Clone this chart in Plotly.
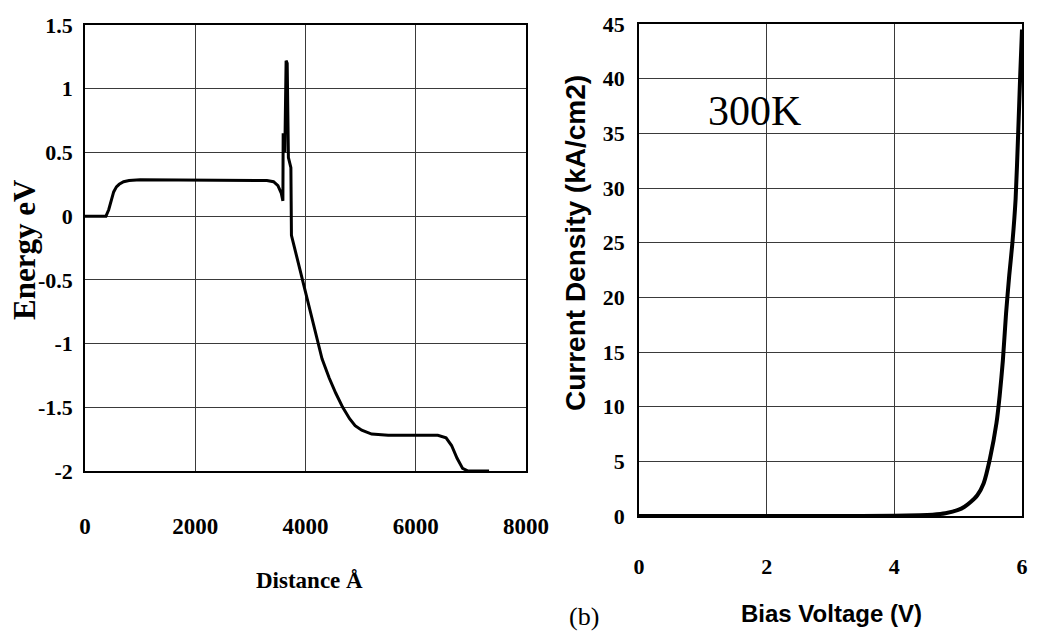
import plotly.graph_objects as go

# ---- Left panel: energy band profile ----
distance_A = [0, 300, 380, 430, 470, 520, 570, 620, 700, 800, 1000, 2000, 3000, 3300, 3420,
              3500, 3560, 3590, 3595, 3625, 3648, 3668, 3690, 3715, 3735, 3745, 3830, 3950,
              4000, 4100, 4200, 4300, 4430, 4550, 4675, 4800, 4900, 5020, 5200, 5500, 6000,
              6400, 6550, 6650, 6750, 6850, 6950, 7330]
energy_eV = [0, 0, 0.0, 0.05, 0.12, 0.19, 0.23, 0.25, 0.27, 0.28, 0.285, 0.285, 0.285, 0.28, 0.27,
             0.24, 0.18, 0.12, 0.65, 0.5, 1.22, 1.2, 0.46, 0.42, 0.38, -0.15, -0.3, -0.5,
             -0.59, -0.77, -0.96, -1.12, -1.27, -1.39, -1.5, -1.59, -1.645, -1.68, -1.71, -1.72,
             -1.72, -1.72, -1.74, -1.8, -1.9, -1.98, -2.0, -2.0]

# ---- Right panel: J-V characteristic ----
bias_V = [0, 1, 2, 3, 4, 4.4, 4.6, 4.8, 5.0, 5.1, 5.2, 5.3, 5.4, 5.5, 5.6, 5.65, 5.7, 5.75,
          5.8, 5.85, 5.9, 5.94, 5.97, 6.0]
current_kA_cm2 = [0, 0, 0, 0, 0.02, 0.06, 0.12, 0.25, 0.55, 0.85, 1.3, 1.9, 3.0, 5.3, 8.5, 11,
                  14.2, 18.5, 22, 25, 29, 35, 40, 44.5]

left_xticks = [0, 2000, 4000, 6000, 8000]
left_yticks = [-2, -1.5, -1, -0.5, 0, 0.5, 1, 1.5]
left_yticktext = ["-2", "-1.5", "-1", "-0.5", "0", "0.5", "1", "1.5"]
right_xticks = [0, 2, 4, 6]
right_yticks = [0, 5, 10, 15, 20, 25, 30, 35, 40, 45]

# page body has an 8px margin on every side; figure is sized/placed to fit inside it
OFF = 8
W, H = 1038 - 2 * OFF, 639 - 2 * OFF


def px(x):
    return (x - OFF) / W


def py(y):
    return (H - (y - OFF)) / H


serif = "Liberation Serif, Times New Roman, serif"
sans = "Liberation Sans, Arial, sans-serif"

fig = go.Figure()
fig.add_trace(go.Scatter(x=distance_A, y=energy_eV, mode="lines",
                         line=dict(color="black", width=3), cliponaxis=False,
                         xaxis="x", yaxis="y", showlegend=False))
fig.add_trace(go.Scatter(x=bias_V, y=current_kA_cm2, mode="lines",
                         line=dict(color="black", width=4, shape="spline", smoothing=0.6),
                         cliponaxis=False, xaxis="x2", yaxis="y2", showlegend=False))

axis_common = dict(showgrid=True, gridcolor="#3a3a3a", gridwidth=1, zeroline=False,
                   showline=True, linecolor="black", linewidth=1.5, mirror=True,
                   ticks="", fixedrange=True, automargin=False, ticklabeloverflow="allow")

fig.update_layout(
    template="none",
    width=W, height=H,
    margin=dict(l=0, r=0, t=0, b=0, pad=0),
    paper_bgcolor="white", plot_bgcolor="white",
    xaxis=dict(domain=[px(85), px(526)], range=[0, 8000], tickvals=left_xticks,
               tickfont=dict(family=serif, size=23, color="black", weight="bold"),
               ticklabelstandoff=34, anchor="y", **axis_common),
    yaxis=dict(domain=[py(471), py(25)], range=[-2, 1.5], tickvals=left_yticks,
               ticktext=left_yticktext,
               tickfont=dict(family=serif, size=22, color="black", weight="bold"),
               ticklabelstandoff=6, anchor="x", **axis_common),
    xaxis2=dict(domain=[px(639), px(1022)], range=[0, 6], tickvals=right_xticks,
                tickfont=dict(family=serif, size=22, color="black", weight="bold"),
                ticklabelstandoff=30, anchor="y2", **axis_common),
    yaxis2=dict(domain=[py(516), py(24)], range=[0, 45], tickvals=right_yticks,
                tickfont=dict(family=serif, size=22, color="black", weight="bold"),
                ticklabelstandoff=8, anchor="x2", **axis_common),
    annotations=[
        dict(text="Energy eV", xref="paper", yref="paper", x=px(24), y=py(250),
             textangle=-90, showarrow=False, xanchor="center", yanchor="middle",
             font=dict(family=serif, size=31, color="black", weight="bold")),
        dict(text="Distance Å", xref="paper", yref="paper", x=px(309), y=py(580),
             showarrow=False, xanchor="center", yanchor="middle",
             font=dict(family=serif, size=23, color="black", weight="bold")),
        dict(text="Current Density (kA/cm2)", xref="paper", yref="paper", x=px(576),
             y=py(243), textangle=-90, showarrow=False, xanchor="center",
             yanchor="middle",
             font=dict(family=sans, size=28, color="black", weight="bold")),
        dict(text="Bias Voltage (V)", xref="paper", yref="paper", x=px(831), y=py(613),
             showarrow=False, xanchor="center", yanchor="middle",
             font=dict(family=sans, size=24, color="black", weight="bold")),
        dict(text="(b)", xref="paper", yref="paper", x=px(584), y=py(616),
             showarrow=False, xanchor="center", yanchor="middle",
             font=dict(family=serif, size=26, color="black")),
        dict(text="300K", xref="x2", yref="y2", x=1.81, y=37.0,
             showarrow=False, xanchor="center", yanchor="middle",
             font=dict(family=serif, size=42, color="black")),
    ],
)

fig.write_html("out.html")
